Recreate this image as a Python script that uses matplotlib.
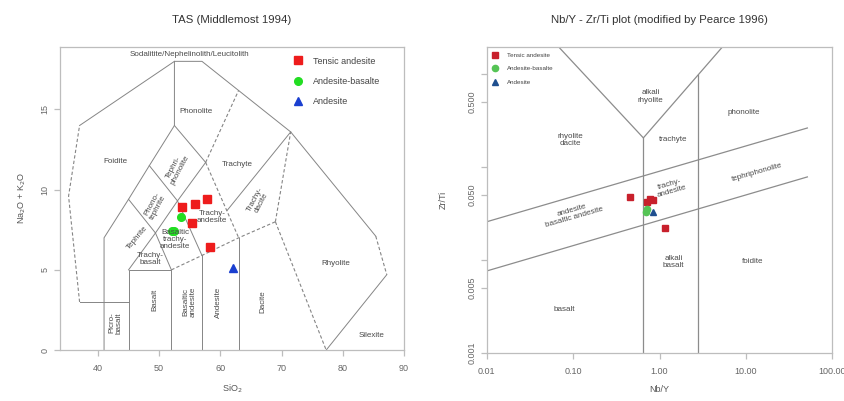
import numpy as np
import matplotlib
matplotlib.use("Agg")
import matplotlib.pyplot as plt

plt.rcParams['font.family'] = ['Liberation Sans', 'DejaVu Sans']

# --- sample data ---
groups = ['Tensic andesite', 'Andesite-basalte', 'Andesite']

# TAS: SiO2 and Na2O+K2O
tas_red_x = [53.7, 55.8, 57.9, 55.3, 58.3]
tas_red_y = [8.9, 9.1, 9.4, 7.9, 6.4]
tas_green_x = [53.6, 52.5, 52.1]
tas_green_y = [8.3, 7.45, 7.4]
tas_blue_x = [62.0]
tas_blue_y = [5.1]

# Nb/Y - Zr/Ti
pe_red_x = [0.45, 0.72, 0.78, 0.85, 1.17]
pe_red_y = [0.0475, 0.042, 0.045, 0.044, 0.022]
pe_green_x = [0.69, 0.72]
pe_green_y = [0.033, 0.035]
pe_blue_x = [0.85]
pe_blue_y = [0.033]

# --- TAS field boundaries (solid, dashed) ---
tas_solid = [
    ([37, 52.5, 57, 71.5, 85.4], [14, 18, 18, 13.6, 7.1]),
    ([87.2, 77.3], [4.7, 0]),
    ([37, 45], [3, 3]),
    ([41, 41, 45, 48.4, 52.5, 52.5], [0, 7, 9.4, 11.5, 14, 18]),
    ([45, 45, 52, 52], [0, 5, 5, 0]),
    ([57, 57], [0, 5.9]),
    ([63, 63], [0, 7]),
    ([45, 49.4, 53, 57.6], [5, 7.3, 9.3, 11.7]),
    ([49.4, 52], [7.3, 5]),
    ([45, 49.4], [9.4, 7.3]),
    ([48.4, 53, 57], [11.5, 9.3, 5.9]),
    ([52.5, 57.6], [14, 11.7]),
    ([61.1, 71.5], [8.7, 13.6]),
]
tas_dashed = [
    ([37, 35.2, 37], [3, 9.6, 14]),
    ([52, 57, 63, 69], [5, 5.9, 7, 8]),
    ([69, 77.3], [8, 0]),
    ([69, 71.5], [8, 13.6]),
    ([57.6, 63], [11.7, 16.2]),
    ([57.6, 63], [11.7, 7]),
    ([85.4, 87.2], [7.1, 4.7]),
]
tas_labels = [
    ('Sodalitite/Nephelinolith/Leucitolith', 55.0, 18.4, 0),
    ('Phonolite', 56.1, 14.9, 0),
    ('Foidite', 42.8, 11.75, 0),
    ('Trachyte', 62.8, 11.6, 0),
    ('Tephri-\nphonolite', 52.9, 11.3, 62),
    ('Phono-\ntephrite', 49.3, 9.0, 62),
    ('Tephrite', 46.4, 7.0, 50),
    ('Trachy-\nandesite', 58.6, 8.3, 0),
    ('Basaltic\ntrachy-\nandesite', 52.6, 6.9, 0),
    ('Trachy-\nbasalt', 48.6, 5.7, 0),
    ('Trachy-\ndacite', 66.2, 9.3, 62),
    ('Rhyolite', 78.8, 5.4, 0),
    ('Picro-\nbasalt', 42.9, 1.7, 90),
    ('Basalt', 49.3, 3.1, 90),
    ('Basaltic\nandesite', 55.0, 3.0, 90),
    ('Andesite', 59.7, 3.0, 90),
    ('Dacite', 66.9, 3.0, 90),
    ('Silexite', 84.7, 0.9, 0),
]

# --- Pearce 1996 boundaries ---
pe_lines = [
    ([0.068, 0.65, 5.35], [1.95, 0.205, 1.95]),
    ([0.65, 0.65], [0.001, 0.205]),
    ([2.8, 2.8], [0.001, 0.98]),
    ([0.01, 51.4], [0.0257, 0.262]),
    ([0.01, 51.4], [0.0076, 0.078]),
]
pe_labels = [
    ('alkali\nrhyolite', 0.79, 0.57, 0),
    ('rhyolite\ndacite', 0.094, 0.195, 0),
    ('trachyte', 1.45, 0.195, 0),
    ('phonolite', 9.35, 0.38, 0),
    ('tephriphonolite', 13.6, 0.088, 16),
    ('trachy-\nandesite', 1.35, 0.06, 16),
    ('andesite\nbasaltic andesite', 0.10, 0.0313, 16),
    ('alkali\nbasalt', 1.45, 0.0095, 0),
    ('foidite', 11.9, 0.0095, 0),
    ('basalt', 0.078, 0.0029, 0),
]

fig = plt.figure(figsize=(8.45, 4.01), dpi=100)
ax1 = fig.add_axes([0.071, 0.127, 0.407, 0.756])
ax2 = fig.add_axes([0.576, 0.120, 0.409, 0.763])

line_col = '#858585'
grey = '#bdbdbd'
tick_col = '#666666'


def style_axes(ax):
    for s in ax.spines.values():
        s.set_color(grey)
        s.set_linewidth(0.9)
    ax.tick_params(colors=grey, labelcolor=tick_col, labelsize=6.5, length=4, width=0.9)
    ax.tick_params(axis='x', pad=6)
    for lab in ax.get_yticklabels():
        lab.set_rotation(90)
        lab.set_va('center')


# ---- TAS ----
for xs, ys in tas_solid:
    ax1.plot(xs, ys, color=line_col, lw=0.7)
for xs, ys in tas_dashed:
    ax1.plot(xs, ys, color=line_col, lw=0.8, ls=(0, (3, 2)))
for txt, x, y, rot in tas_labels:
    ax1.text(x, y, txt, fontsize=5.8, color='#4a4a4a', ha='center', va='center',
             rotation=rot, linespacing=1.0)

ax1.plot(tas_red_x, tas_red_y, 's', color='#ee1c1c', ms=5.5, ls='none', label=groups[0])
ax1.plot(tas_green_x, tas_green_y, 'o', color='#22dd22', ms=5.5, ls='none', label=groups[1])
ax1.plot(tas_blue_x, tas_blue_y, '^', color='#1a3fd0', ms=5.5, ls='none', label=groups[2])

ax1.set_xlim(33.8, 90)
ax1.set_ylim(0, 18.9)
ax1.set_xticks([40, 50, 60, 70, 80, 90])
ax1.set_yticks([0, 5, 10, 15])
style_axes(ax1)
ax1.set_title('TAS (Middlemost 1994)', fontsize=8.2, color='#333333', pad=17)
ax1.set_xlabel('SiO$_2$', fontsize=6.5, color='#555555', labelpad=7)
ax1.set_ylabel('Na$_2$O + K$_2$O', fontsize=6.5, color='#555555', labelpad=9)
ax1.legend(loc='upper left', bbox_to_anchor=(0.655, 0.995), frameon=False,
           fontsize=6.5, labelspacing=1.25, handletextpad=1.2, handlelength=1.0,
           labelcolor='#444444')

# ---- Nb/Y - Zr/Ti ----
ax2.set_xscale('log')
ax2.set_yscale('log')
for xs, ys in pe_lines:
    ax2.plot(xs, ys, color='#8c8c8c', lw=0.9)
for txt, x, y, rot in pe_labels:
    ax2.text(x, y, txt, fontsize=5.8, color='#4a4a4a', ha='center', va='center',
             rotation=rot, rotation_mode='anchor', linespacing=1.1)

ax2.plot(pe_red_x, pe_red_y, 's', color='#c8202c', ms=4.5, ls='none', label=groups[0])
ax2.plot(pe_green_x, pe_green_y, 'o', color='#55c455', ms=4.5, ls='none', label=groups[1])
ax2.plot(pe_blue_x, pe_blue_y, '^', color='#1f4f8f', ms=4.5, ls='none', label=groups[2])

ax2.set_xlim(0.01, 100)
ax2.set_ylim(0.001, 1.95)
ax2.set_xticks([0.01, 0.1, 1, 10, 100])
ax2.set_xticklabels(['0.01', '0.10', '1.00', '10.00', '100.00'])
ax2.set_yticks([0.001, 0.005, 0.01, 0.05, 0.1, 0.5, 1])
ax2.set_yticklabels(['0.001', '0.005', '', '0.050', '', '0.500', ''])
ax2.minorticks_off()
style_axes(ax2)
ax2.set_title('Nb/Y - Zr/Ti plot (modified by Pearce 1996)', fontsize=8.2, color='#333333', pad=17)
ax2.set_xlabel('Nb/Y', fontsize=6.5, color='#555555', labelpad=7)
ax2.set_ylabel('Zr/Ti', fontsize=6.5, color='#555555', labelpad=14)
ax2.legend(loc='upper left', bbox_to_anchor=(0.0, 1.0), frameon=False,
           fontsize=4.5, labelspacing=1.3, handletextpad=1.6, handlelength=0.8,
           labelcolor='#444444')

fig.savefig('out.png', dpi=100)
